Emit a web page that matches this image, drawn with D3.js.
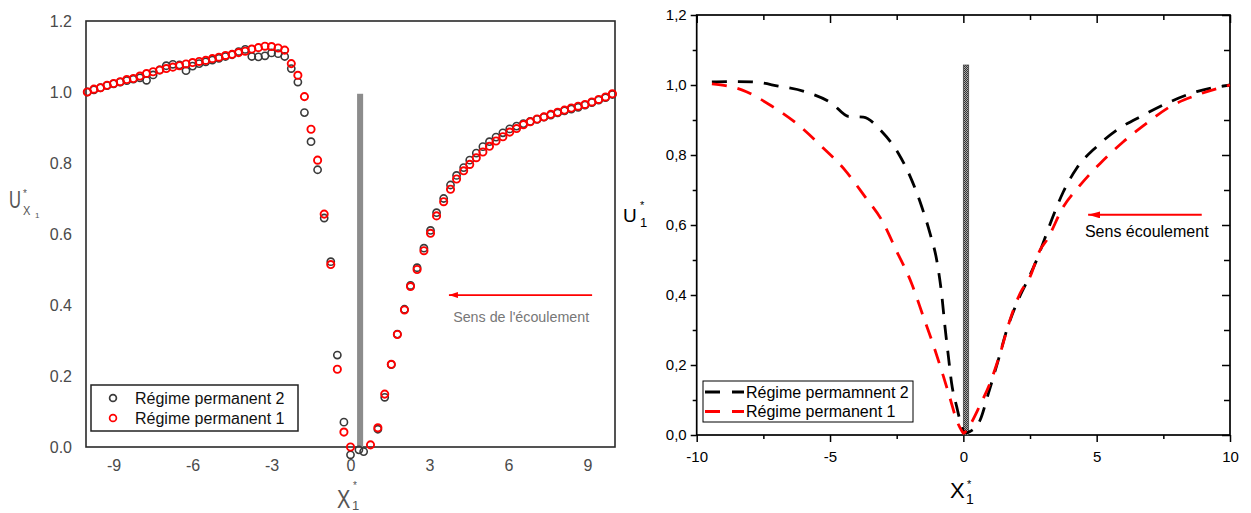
<!DOCTYPE html>
<html><head><meta charset="utf-8">
<script src="https://cdn.jsdelivr.net/npm/d3@7"></script>
<style>
body{margin:0;background:#fff}
svg{display:block}
text{font-family:"Liberation Sans",Arial,Helvetica,sans-serif}
</style>
</head><body>
<svg id="c" width="1251" height="513"></svg>
<script>
// ---------- LEFT PANEL DATA (scatter) ----------
const xUp = [-10,-9.75,-9.5,-9.25,-9,-8.75,-8.5,-8.25,-8,-7.75,-7.5,-7.25,-7,-6.75,-6.5,-6.25,-6,-5.75,-5.5,-5.25,-5,-4.75,-4.5,-4.25,-4,-3.75,-3.5,-3.25,-3,-2.75,-2.5,-2.25,-2,-1.75,-1.5,-1.25,-1,-0.75,-0.5,-0.25,0];
const red1Up = [1.000,1.008,1.012,1.019,1.024,1.029,1.035,1.038,1.045,1.052,1.057,1.062,1.066,1.070,1.074,1.079,1.083,1.086,1.089,1.094,1.098,1.103,1.106,1.111,1.115,1.121,1.125,1.129,1.128,1.124,1.118,1.080,1.047,0.987,0.895,0.808,0.656,0.514,0.219,0.042,0.000];
const black2Up = [1.000,1.006,1.012,1.018,1.023,1.028,1.032,1.036,1.040,1.033,1.048,1.062,1.074,1.078,1.076,1.060,1.073,1.080,1.085,1.090,1.095,1.100,1.105,1.114,1.120,1.100,1.099,1.102,1.110,1.108,1.100,1.066,1.028,0.942,0.860,0.781,0.645,0.522,0.259,0.070,-0.022];
const xDownRed = [0.76,1.04,1.3,1.55,1.78,2.05,2.28,2.53,2.79,3.04,3.27,3.54,3.8,4.03,4.3,4.53,4.78,5.03,5.28,5.53,5.79,6.05,6.31,6.57,6.83,7.09,7.35,7.61,7.87,8.13,8.39,8.65,8.91,9.17,9.43,9.69,9.95];
const red1Down = [0.006,0.054,0.149,0.233,0.317,0.386,0.452,0.500,0.553,0.602,0.651,0.691,0.726,0.755,0.778,0.796,0.815,0.831,0.847,0.862,0.874,0.887,0.897,0.908,0.916,0.924,0.930,0.937,0.943,0.949,0.955,0.960,0.965,0.972,0.979,0.986,0.995];
const xDownBlack = [0.32,0.5,1.04,1.3,1.55,1.78,2.05,2.28,2.53,2.79,3.04,3.27,3.54,3.8,4.03,4.3,4.53,4.78,5.03,5.28,5.53,5.79,6.05,6.31,6.57,6.83,7.09,7.35,7.61,7.87,8.13,8.39,8.65,8.91,9.17,9.43,9.69,9.95];
const black2Down = [-0.008,-0.013,0.05,0.14,0.232,0.318,0.388,0.455,0.505,0.56,0.61,0.66,0.70,0.738,0.765,0.787,0.808,0.828,0.846,0.86,0.873,0.885,0.896,0.904,0.911,0.917,0.923,0.929,0.935,0.941,0.947,0.952,0.957,0.963,0.97,0.977,0.984,0.993];
const leftXTicks = [-9,-6,-3,0,3,6,9];
const leftYTicks = [0,0.2,0.4,0.6,0.8,1.0,1.2];
const leftLegend = ["Régime permanent 2","Régime permanent 1"];
const leftWall = {x0:0.25, x1:0.48, top:0.995};
const leftArrow = {from:9.18, to:3.74, y:0.428, label:"Sens de l'écoulement", lx:3.9, ly:0.352};

// ---------- RIGHT PANEL DATA (dashed curves) ----------
const rBlackX = [-9.43,-8.7,-7.93,-6.94,-5.94,-4.94,-4.3,-3.75,-3.06,-2.44,-1.94,-1.56,-1.25,-1.0,-0.81,-0.69,-0.56,-0.44,-0.25,-0.06,0.05,0.25,0.63,0.94,1.31,1.63,2.0,2.38,2.75,2.94,3.31,3.75,4.25,5.0,5.75,6.75,7.75,8.75,10];
const rBlackY = [1.009,1.010,1.009,0.997,0.981,0.948,0.910,0.908,0.867,0.805,0.729,0.652,0.576,0.500,0.400,0.310,0.224,0.148,0.081,0.024,0.006,0.010,0.043,0.119,0.214,0.300,0.376,0.438,0.500,0.538,0.614,0.695,0.762,0.824,0.871,0.914,0.952,0.981,1.000];
const rRedX = [-9.43,-8.31,-7.19,-6.19,-5.31,-4.44,-3.69,-3.06,-2.5,-1.94,-1.5,-1.125,-0.75,-0.5,-0.25,-0.06,0.0,0.25,0.63,1.0,1.38,1.75,2.13,2.5,2.88,3.13,3.75,4.38,5.13,6.0,6.88,7.75,8.75,10];
const rRedY = [1.003,0.986,0.940,0.886,0.824,0.757,0.681,0.614,0.525,0.433,0.338,0.257,0.168,0.105,0.042,0.012,0.005,0.029,0.086,0.148,0.233,0.329,0.405,0.452,0.529,0.557,0.652,0.714,0.776,0.838,0.891,0.938,0.971,1.000];
const rightXMajor = [-10,-5,0,5,10];
const rightXMinor = [-7.5,-2.5,2.5,7.5];
const rightYMajor = [0,0.2,0.4,0.6,0.8,1.0,1.2];
const rightYMinor = [0.1,0.3,0.5,0.7,0.9,1.1];
const rightLegend = ["Régime permamnent 2","Régime permanent 1"];
const rightWall = {x0:0, x1:0.2, top:1.057};
const rightArrow = {from:8.94, to:4.68, y:0.629, label:"Sens écoulement", lx:4.56, ly:0.566};

const svg = d3.select('#c');
svg.append('rect').attr('width',1251).attr('height',513).attr('fill','#fff');
const defs = svg.append('defs');
const pat = defs.append('pattern').attr('id','hatch').attr('width',2).attr('height',2).attr('patternUnits','userSpaceOnUse');
pat.append('rect').attr('width',2).attr('height',2).attr('fill','#aaa');
pat.append('rect').attr('width',1).attr('height',1).attr('fill','#333');
pat.append('rect').attr('x',1).attr('y',1).attr('width',1).attr('height',1).attr('fill','#333');
function mk(id, w, h){
  defs.append('marker').attr('id',id).attr('viewBox',`0 0 ${w} ${h}`).attr('refX',w).attr('refY',h/2)
   .attr('markerWidth',w).attr('markerHeight',h).attr('markerUnits','userSpaceOnUse').attr('orient','auto')
   .append('path').attr('d',`M0,0L${w},${h/2}L0,${h}Z`).attr('fill','#f00');
}
mk('ahL',9,6); mk('ahR',12,7);

// ================= LEFT PANEL =================
const xL = d3.scaleLinear().domain([-10.05,10.05]).range([86,615]);
const yL = d3.scaleLinear().domain([0,1.2]).range([447,21]);
const gL = svg.append('g');
const axBL = gL.append('g').attr('transform',`translate(0,${yL(0)})`)
  .call(d3.axisBottom(xL).tickValues(leftXTicks).tickSize(0).tickPadding(13).tickFormat(d=>String(d)));
const axLL = gL.append('g').attr('transform',`translate(${xL.range()[0]},0)`)
  .call(d3.axisLeft(yL).tickValues(leftYTicks).tickSize(0).tickPadding(14).tickFormat(d3.format('.1f')));
[axBL,axLL].forEach(a=>{a.select('.domain').remove(); a.selectAll('text').attr('font-size',16).attr('fill','#4a4a4a').attr('font-family','"Liberation Sans",Arial,sans-serif');});
gL.append('rect').attr('x',xL.range()[0]).attr('y',yL(1.2)).attr('width',xL.range()[1]-xL.range()[0]).attr('height',yL(0)-yL(1.2))
  .attr('fill','none').attr('stroke','#2a2a2a').attr('stroke-width',1.6);
// wall
gL.append('rect').attr('x',xL(leftWall.x0)).attr('y',yL(leftWall.top)).attr('width',xL(leftWall.x1)-xL(leftWall.x0)).attr('height',yL(0)-yL(leftWall.top))
  .attr('fill','#8c8c8c');
// points
const blkPts = xUp.map((x,i)=>[x,black2Up[i]]).concat(xDownBlack.map((x,i)=>[x,black2Down[i]]));
const redPts = xUp.map((x,i)=>[x,red1Up[i]]).concat(xDownRed.map((x,i)=>[x,red1Down[i]]));
gL.append('g').selectAll('circle').data(blkPts).join('circle')
  .attr('cx',d=>xL(d[0])).attr('cy',d=>yL(d[1])).attr('r',3.6).attr('fill','none').attr('stroke','#3a3a3a').attr('stroke-width',1.6);
gL.append('g').selectAll('circle').data(redPts).join('circle')
  .attr('cx',d=>xL(d[0])).attr('cy',d=>yL(d[1])).attr('r',3.6).attr('fill','none').attr('stroke','#f00').attr('stroke-width',1.9);
// arrow + label
gL.append('line').attr('x1',xL(leftArrow.from)).attr('x2',xL(leftArrow.to)).attr('y1',yL(leftArrow.y)).attr('y2',yL(leftArrow.y))
  .attr('stroke','#f00').attr('stroke-width',1.8).attr('marker-end','url(#ahL)');
gL.append('text').attr('x',xL(leftArrow.lx)).attr('y',yL(leftArrow.ly)).attr('font-size',14).attr('fill','#777')
  .attr('textLength',136).attr('lengthAdjust','spacingAndGlyphs').text(leftArrow.label);
// legend
const lgL = gL.append('g');
lgL.append('rect').attr('x',91).attr('y',385).attr('width',207).attr('height',46).attr('fill','#fff').attr('stroke','#222').attr('stroke-width',1.5);
leftLegend.forEach((t,i)=>{
  const yy = 398 + i*20;
  lgL.append('circle').attr('cx',113).attr('cy',yy).attr('r',3.4).attr('fill','none').attr('stroke',i?'#f00':'#3a3a3a').attr('stroke-width',1.7);
  lgL.append('text').attr('x',135).attr('y',yy+6).attr('font-size',16).attr('fill','#111').text(t);
});
// axis titles
gL.append('text').attr('transform','translate(9,208) scale(0.72,1)').attr('font-size',23).attr('fill','#555').text('U');
gL.append('text').attr('x',23).attr('y',197).attr('font-size',10).attr('fill','#555').text('*');
gL.append('text').attr('transform','translate(23,215) scale(0.85,1)').attr('font-size',13).attr('fill','#555').text('X');
gL.append('text').attr('x',35).attr('y',218).attr('font-size',8).attr('fill','#555').text('1');
gL.append('text').attr('transform','translate(337,508) scale(0.8,1)').attr('font-size',25).attr('fill','#555').text('X');
gL.append('text').attr('x',353).attr('y',489).attr('font-size',10).attr('fill','#555').text('*');
gL.append('text').attr('x',352).attr('y',510).attr('font-size',13).attr('fill','#555').text('1');

// ================= RIGHT PANEL =================
const xR = d3.scaleLinear().domain([-10,10]).range([696.7,1230]);
const yR = d3.scaleLinear().domain([0,1.2]).range([435,15]);
const gR = svg.append('g');
const fmtC = d=>d.toFixed(1).replace('.',',');
const styleAx = a=>{a.select('.domain').remove(); a.selectAll('line').attr('stroke','#000').attr('stroke-width',1.5);
  a.selectAll('text').attr('font-size',15).attr('fill','#000').attr('font-family','"Liberation Sans",Arial,sans-serif');};
styleAx(gR.append('g').attr('transform',`translate(0,${yR(0)})`).call(d3.axisBottom(xR).tickValues(rightXMajor).tickSize(7).tickPadding(9).tickFormat(d=>String(d))));
styleAx(gR.append('g').attr('transform',`translate(0,${yR(0)})`).call(d3.axisBottom(xR).tickValues(rightXMinor).tickSize(4).tickFormat('')));
styleAx(gR.append('g').attr('transform',`translate(${xR(-10)},0)`).call(d3.axisLeft(yR).tickValues(rightYMajor).tickSize(6).tickPadding(4).tickFormat(fmtC)));
styleAx(gR.append('g').attr('transform',`translate(${xR(-10)},0)`).call(d3.axisLeft(yR).tickValues(rightYMinor).tickSize(4).tickFormat('')));
styleAx(gR.append('g').attr('transform',`translate(0,${yR(1.2)})`).call(d3.axisTop(xR).tickValues(rightXMajor).tickSize(-8).tickFormat('')));
styleAx(gR.append('g').attr('transform',`translate(0,${yR(1.2)})`).call(d3.axisTop(xR).tickValues(rightXMinor).tickSize(-5).tickFormat('')));
styleAx(gR.append('g').attr('transform',`translate(${xR(10)},0)`).call(d3.axisRight(yR).tickValues(rightYMajor).tickSize(-8).tickFormat('')));
styleAx(gR.append('g').attr('transform',`translate(${xR(10)},0)`).call(d3.axisRight(yR).tickValues(rightYMinor).tickSize(-6).tickFormat('')));
gR.append('rect').attr('x',xR(-10)).attr('y',yR(1.2)).attr('width',xR(10)-xR(-10)).attr('height',yR(0)-yR(1.2))
  .attr('fill','none').attr('stroke','#000').attr('stroke-width',1.7);
// wall
gR.append('rect').attr('x',xR(rightWall.x0)).attr('y',yR(rightWall.top)).attr('width',xR(rightWall.x1)-xR(rightWall.x0)).attr('height',yR(0)-yR(rightWall.top))
  .attr('fill','url(#hatch)').attr('stroke','#444').attr('stroke-width',0.8);
// curves
const line = d3.line().x(d=>xR(d[0])).y(d=>yR(d[1])).curve(d3.curveMonotoneX);
gR.append('path').datum(rBlackX.map((x,i)=>[x,rBlackY[i]])).attr('d',line).attr('fill','none')
  .attr('stroke','#000').attr('stroke-width',2.8).attr('stroke-dasharray','15,11');
gR.append('path').datum(rRedX.map((x,i)=>[x,rRedY[i]])).attr('d',line).attr('fill','none')
  .attr('stroke','#f00').attr('stroke-width',2.8).attr('stroke-dasharray','15,11');
// arrow + label
gR.append('line').attr('x1',xR(rightArrow.from)).attr('x2',xR(rightArrow.to)).attr('y1',yR(rightArrow.y)).attr('y2',yR(rightArrow.y))
  .attr('stroke','#f00').attr('stroke-width',2).attr('marker-end','url(#ahR)');
gR.append('text').attr('x',xR(rightArrow.lx)).attr('y',yR(rightArrow.ly)).attr('font-size',16).attr('fill','#000').text(rightArrow.label);
// legend
const lgR = gR.append('g');
lgR.append('rect').attr('x',703).attr('y',381).attr('width',210).attr('height',41).attr('fill','#fff').attr('stroke','#000').attr('stroke-width',1);
rightLegend.forEach((t,i)=>{
  const yy = 392 + i*19.5;
  lgR.append('line').attr('x1',705).attr('x2',744).attr('y1',yy).attr('y2',yy).attr('stroke',i?'#f00':'#000')
    .attr('stroke-width',2.8).attr('stroke-dasharray','15,12');
  lgR.append('text').attr('x',746).attr('y',yy+5.5).attr('font-size',16).attr('fill','#000').text(t);
});
// axis titles
gR.append('text').attr('x',623).attr('y',222).attr('font-size',19).attr('fill','#000').text('U');
gR.append('text').attr('x',640).attr('y',209).attr('font-size',11).attr('fill','#000').text('*');
gR.append('text').attr('x',640).attr('y',227).attr('font-size',13).attr('fill','#000').text('1');
gR.append('text').attr('x',950).attr('y',498).attr('font-size',22).attr('fill','#000').text('X');
gR.append('text').attr('x',967).attr('y',488).attr('font-size',11).attr('fill','#000').text('*');
gR.append('text').attr('x',966).attr('y',504).attr('font-size',14).attr('fill','#000').text('1');
</script>
</body></html>
